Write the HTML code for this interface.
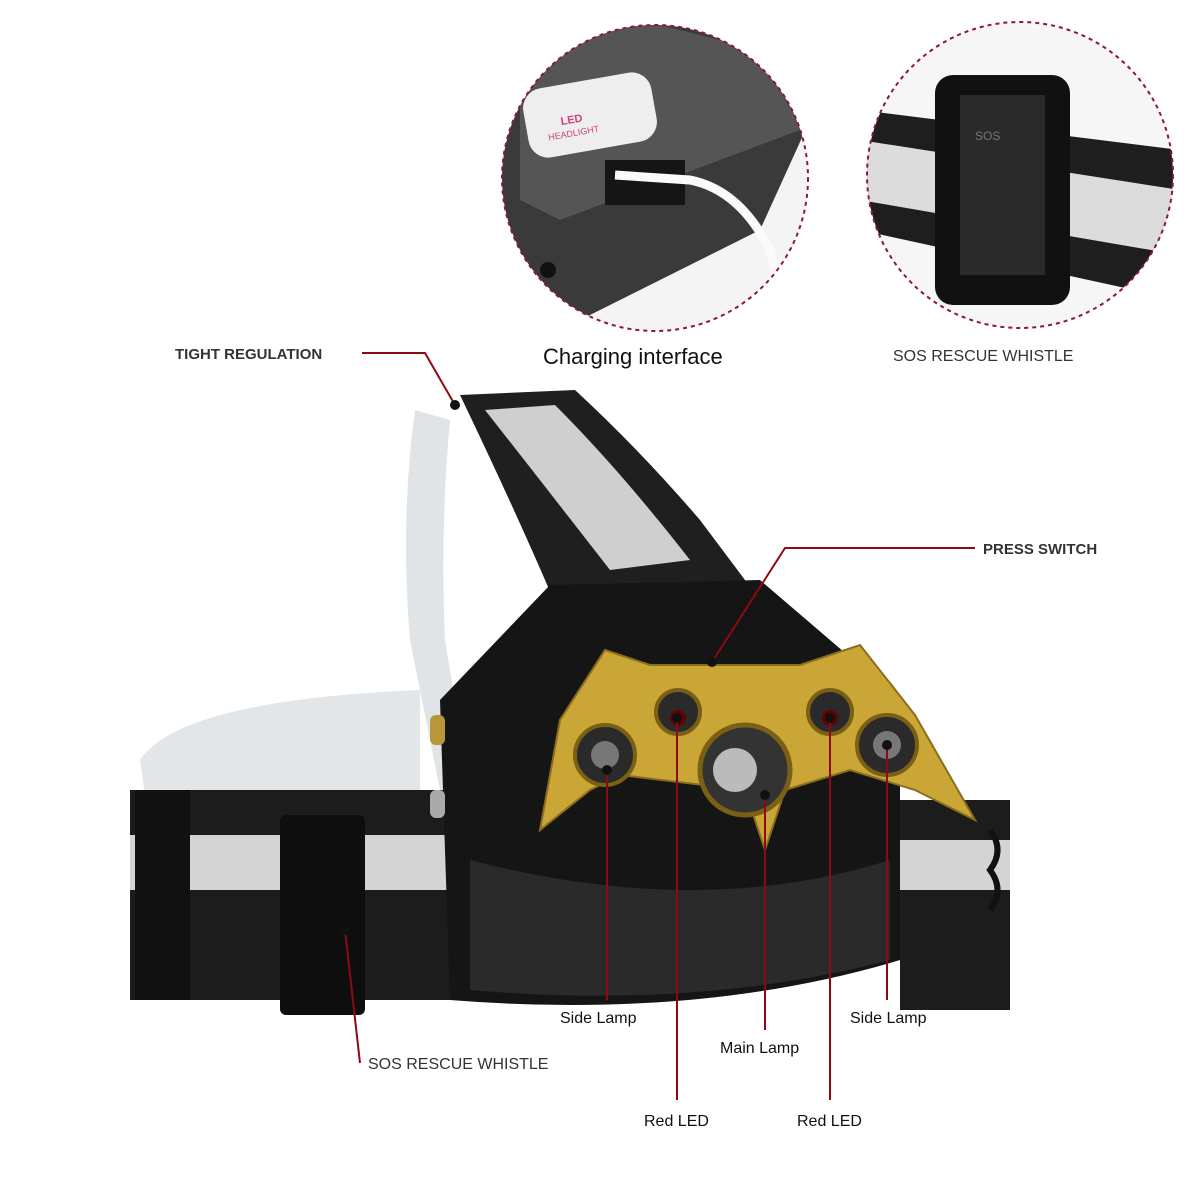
<!DOCTYPE html>
<html><head><meta charset="utf-8"><style>
html,body{margin:0;padding:0;background:#fff;}
svg{display:block;}
text{font-family:"Liberation Sans",sans-serif;}
</style></head><body>
<svg width="1200" height="1200" viewBox="0 0 1200 1200" xmlns="http://www.w3.org/2000/svg">
<defs>
<clipPath id="c1"><circle cx="655" cy="178" r="153"/></clipPath>
<clipPath id="c2"><circle cx="1020" cy="175" r="153"/></clipPath>
</defs>
<!-- circle 1 -->
<g clip-path="url(#c1)">
<rect x="500" y="20" width="310" height="320" fill="#f4f4f4"/>
<polygon points="500,20 810,20 810,120 760,230 560,330 500,330" fill="#3a3a3a"/>
<polygon points="520,60 640,20 800,60 800,130 560,220 520,200" fill="#555"/>
<rect x="525" y="80" width="130" height="70" rx="20" fill="#eee" transform="rotate(-10 590 115)"/>
<text x="560" y="120" font-size="11" fill="#d04080" font-weight="bold" transform="rotate(-10 590 115)">LED</text>
<text x="545" y="133" font-size="9" fill="#d04080" transform="rotate(-10 590 115)">HEADLIGHT</text>
<rect x="605" y="160" width="80" height="45" fill="#151515"/>
<path d="M615 175 L690 180 Q740 190 770 250 L790 340" stroke="#fafafa" stroke-width="9" fill="none"/>
<circle cx="548" cy="270" r="8" fill="#111"/>
</g>
<circle cx="655" cy="178" r="153" fill="none" stroke="#8b1a2a" stroke-width="2" stroke-dasharray="4,4"/>
<!-- circle 2 -->
<g clip-path="url(#c2)">
<rect x="860" y="20" width="320" height="320" fill="#f6f6f6"/>
<polygon points="860,110 1180,150 1180,300 860,230" fill="#1e1e1e"/>
<polygon points="860,140 1180,190 1180,255 860,200" fill="#dcdcdc"/>
<rect x="935" y="75" width="135" height="230" rx="18" fill="#111"/>
<rect x="960" y="95" width="85" height="180" fill="#2a2a2a"/>
<text x="975" y="140" font-size="12" fill="#777">SOS</text>
</g>
<circle cx="1020" cy="175" r="153" fill="none" stroke="#8b1a2a" stroke-width="2" stroke-dasharray="4,4"/>
<text x="543" y="364" font-size="22" fill="#111">Charging interface</text>
<text x="893" y="361" font-size="16" fill="#333">SOS RESCUE WHISTLE</text>
<!-- headlamp -->
<path d="M415 410 Q400 520 410 640 L440 790 L470 790 L445 640 Q440 530 450 420 Z" fill="#d8dde0" opacity="0.8"/>
<path d="M460 395 L575 390 Q640 450 700 520 L760 600 L560 615 Q520 520 460 395 Z" fill="#1f1f1f"/>
<path d="M485 410 L555 405 Q620 470 690 560 L610 570 Q540 480 485 410 Z" fill="#cfcfcf"/>
<path d="M140 760 Q180 700 420 690 L420 800 Q230 800 150 830 Z" fill="#e2e6e8"/>
<rect x="130" y="790" width="330" height="210" fill="#1c1c1c"/>
<rect x="130" y="835" width="330" height="55" fill="#d4d4d4"/>
<rect x="900" y="800" width="110" height="210" fill="#1c1c1c"/>
<rect x="900" y="840" width="110" height="50" fill="#d4d4d4"/>
<rect x="135" y="790" width="55" height="210" fill="#111"/>
<rect x="280" y="815" width="85" height="200" rx="6" fill="#0e0e0e"/>
<path d="M440 700 L550 585 L760 580 L900 700 L900 960 Q700 1020 450 1000 Z" fill="#151515"/>
<path d="M470 860 Q700 920 890 860 L890 960 Q700 1010 470 990 Z" fill="#2a2a2a"/>
<rect x="430" y="715" width="15" height="30" rx="6" fill="#b8963a"/>
<rect x="430" y="790" width="15" height="28" rx="6" fill="#aaa"/>
<!-- yellow bat front -->
<path d="M540 830 L560 720 L605 650 L650 665 L800 665 L860 645 L915 715 L975 820 L915 790 L850 770 L785 790 L765 850 L745 790 L620 775 L590 790 Z" fill="#c9a636" stroke="#8a6e1c" stroke-width="2"/>
<circle cx="605" cy="755" r="30" fill="#2a2a2a" stroke="#7a5f15" stroke-width="4"/>
<circle cx="605" cy="755" r="14" fill="#777"/>
<circle cx="678" cy="712" r="22" fill="#2a2a2a" stroke="#7a5f15" stroke-width="4"/>
<circle cx="678" cy="718" r="8" fill="#600"/>
<circle cx="745" cy="770" r="45" fill="#333" stroke="#7a5f15" stroke-width="5"/>
<circle cx="735" cy="770" r="22" fill="#bbb"/>
<circle cx="830" cy="712" r="22" fill="#2a2a2a" stroke="#7a5f15" stroke-width="4"/>
<circle cx="830" cy="718" r="8" fill="#600"/>
<circle cx="887" cy="745" r="30" fill="#2a2a2a" stroke="#7a5f15" stroke-width="4"/>
<circle cx="887" cy="745" r="14" fill="#777"/>
<path d="M990 830 q15 20 0 40 q15 20 0 40" stroke="#111" stroke-width="6" fill="none"/>
<!-- leaders -->
<g stroke="#8b0a14" stroke-width="2" fill="none">
<polyline points="362,353 425,353 455,405"/>
<polyline points="975,548 785,548 712,662"/>
<polyline points="360,1063 345,930"/>
<line x1="607" y1="770" x2="607" y2="1000"/>
<line x1="677" y1="718" x2="677" y2="1100"/>
<line x1="765" y1="795" x2="765" y2="1030"/>
<line x1="830" y1="718" x2="830" y2="1100"/>
<line x1="887" y1="745" x2="887" y2="1000"/>
</g>
<g fill="#111"><circle cx="455" cy="405" r="5"/><circle cx="712" cy="662" r="5"/><circle cx="345" cy="930" r="5"/>
<circle cx="607" cy="770" r="5"/><circle cx="677" cy="718" r="5"/><circle cx="765" cy="795" r="5"/><circle cx="830" cy="718" r="5"/><circle cx="887" cy="745" r="5"/></g>
<text x="175" y="359" font-size="15" fill="#333" font-weight="bold">TIGHT REGULATION</text>
<text x="983" y="554" font-size="15" fill="#333" font-weight="bold">PRESS SWITCH</text>
<text x="368" y="1069" font-size="16" fill="#333">SOS RESCUE WHISTLE</text>
<text x="560" y="1023" font-size="16" fill="#111">Side Lamp</text>
<text x="720" y="1053" font-size="16" fill="#111">Main Lamp</text>
<text x="850" y="1023" font-size="16" fill="#111">Side Lamp</text>
<text x="644" y="1126" font-size="16" fill="#111">Red LED</text>
<text x="797" y="1126" font-size="16" fill="#111">Red LED</text>
</svg>
</body></html>
